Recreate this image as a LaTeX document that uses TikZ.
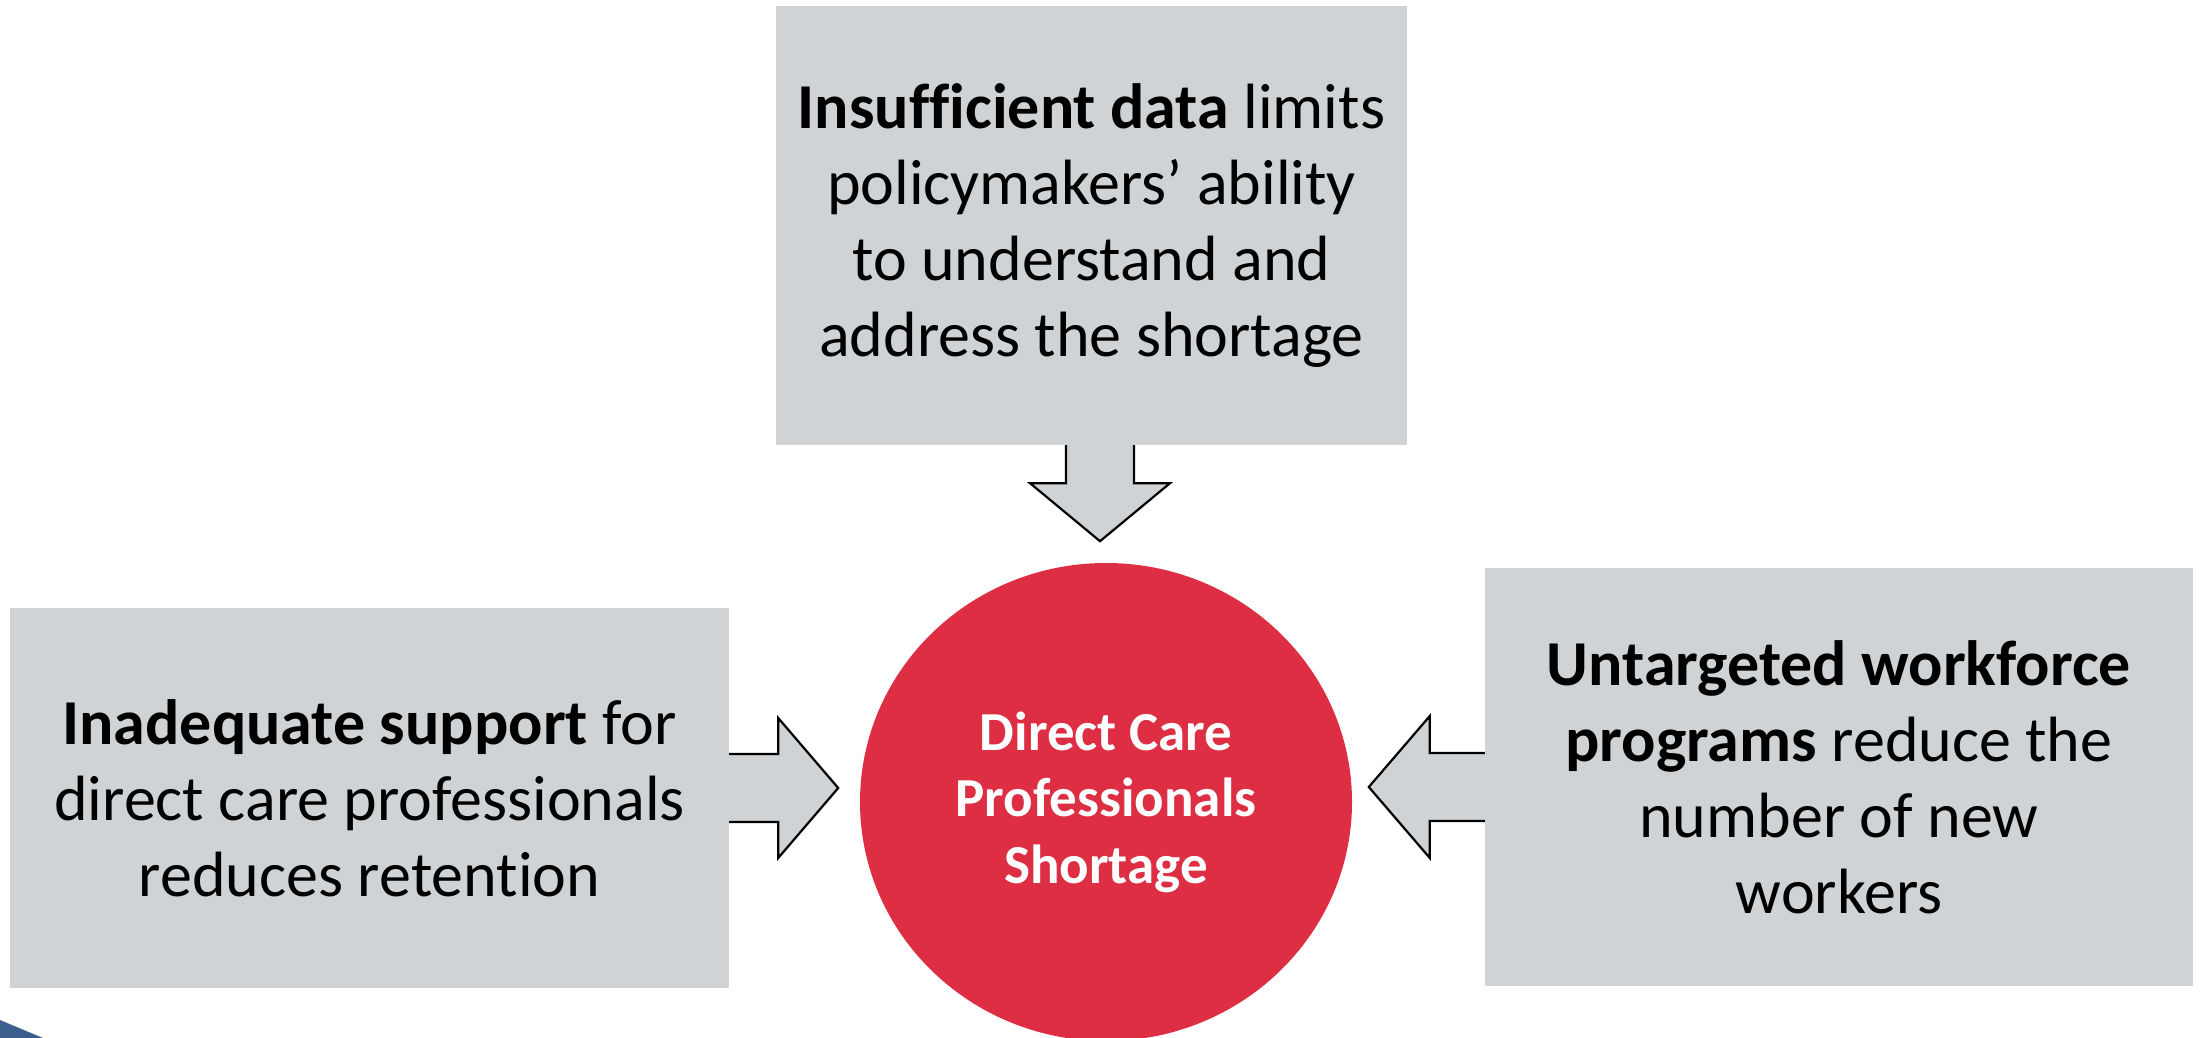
\documentclass[tikz,border=0pt]{standalone}
\usepackage{fontspec}
\setmainfont{Carlito}[Ligatures=NoCommon]
\usetikzlibrary{shapes.geometric}

\definecolor{boxgray}{RGB}{207,211,213}
\definecolor{dcred}{RGB}{221,46,67}
\definecolor{cornerblue}{RGB}{59,94,142}

\begin{document}
\begin{tikzpicture}[x=1pt,y=-1pt,
  cause/.style={fill=boxgray, align=center, inner sep=0pt,
    font=\fontsize{64}{76}\selectfont},
  blockarrow/.style={draw=black, fill=boxgray, line width=2.2pt, line join=miter}]

\useasboundingbox (0,0) rectangle (2203,1038);

% Corner mark
\fill[cornerblue] (0,1020) -- (43,1038) -- (0,1038) -- cycle;

% Causes
\node[cause, minimum width=631pt, minimum height=439pt] (data) at (1091.5,225.5) {
\textbf{Insufficient data} limits\\
policymakers’ ability\\
to understand and\\
address the shortage
};

\node[cause, minimum width=719pt, minimum height=380pt] (support) at (369.5,798) {
\textbf{Inadequate support} for\\
direct care professionals\\
reduces retention
};

\node[cause, minimum width=708pt, minimum height=418pt] (programs) at (1839,777) {
\textbf{Untargeted workforce}\\
\textbf{programs} reduce the\\
number of new\\
workers
};

% Shortage
\node[ellipse, fill=dcred, minimum width=492pt, minimum height=478pt, inner sep=0pt,
  text=white, align=center, font=\bfseries\fontsize{55}{66.5}\selectfont]
  (shortage) at (1106,802) {Direct Care\\Professionals\\Shortage};

% Block arrows
\filldraw[blockarrow] ([xshift=-25.5pt]data.south) -- ++(0,38) -- ++(-36,0)
  -- ++(70,58) -- ++(70,-58) -- ++(-36,0) -- ++(0,-38);
\filldraw[blockarrow] ([yshift=44pt]support.east) -- ++(49,0) -- ++(0,-36)
  -- ++(60,70) -- ++(-60,70) -- ++(0,-36) -- ++(-49,0);
\filldraw[blockarrow] ([yshift=24pt]programs.west) -- ++(-55,0) -- ++(0,-37)
  -- ++(-61,71) -- ++(61,71) -- ++(0,-37) -- ++(55,0);

\end{tikzpicture}
\end{document}
